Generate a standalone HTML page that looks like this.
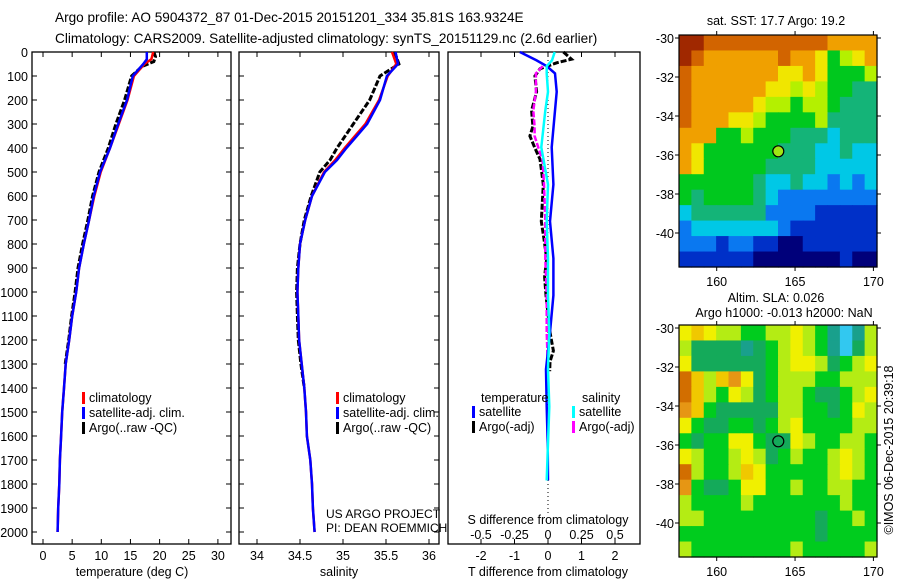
<!DOCTYPE html>
<html><head><meta charset="utf-8">
<style>
body{margin:0;background:#fff;}
svg{display:block;font-family:"Liberation Sans",sans-serif;}
text{font-size:12.5px;fill:#000;}
</style></head>
<body>
<svg id="c" width="900" height="580" viewBox="0 0 900 580"></svg>
<script>
// ---------- data ----------
const tDepth=[0,30,50,100,200,300,400,500,600,700,800,900,1000,1100,1200,1300,1400,1500,1600,1700,1800,1900,2000];
const tClim=[18.9,18.6,17.4,15.6,14.5,13.0,11.5,9.9,8.8,7.9,7.0,6.2,5.7,5.0,4.5,3.9,3.6,3.3,3.1,2.9,2.8,2.6,2.5];
const tSat=[17.8,17.8,17.2,15.4,14.4,12.9,11.5,9.8,8.7,7.9,7.0,6.2,5.7,5.0,4.5,3.9,3.6,3.3,3.1,2.9,2.8,2.6,2.5];
const argoTDepth=[0,20,40,60,100,200,300,400,500,600,700,800,900,1000,1100,1200,1300];
const argoT=[19.0,19.3,19.0,17.0,15.2,14.0,12.5,11.2,9.6,8.5,7.7,6.8,6.0,5.5,4.9,4.4,3.8];
const sDepth=[0,50,100,200,300,350,400,450,500,600,700,800,900,1000,1100,1200,1300,1400,1500,1600,1700,1800,1900,2000];
const sClim=[35.57,35.62,35.52,35.42,35.26,35.14,35.02,34.91,34.78,34.64,34.56,34.50,34.48,34.47,34.48,34.49,34.52,34.55,34.57,34.58,34.62,34.64,34.65,34.67];
const sSat=[35.61,35.64,35.51,35.43,35.28,35.16,35.04,34.93,34.79,34.64,34.56,34.50,34.48,34.47,34.48,34.49,34.52,34.55,34.57,34.58,34.62,34.64,34.65,34.67];
const argoSDepth=[0,50,100,200,300,400,450,500,600,700,800,900,1000,1100,1200,1300,1400];
const argoS=[35.60,35.65,35.43,35.31,35.12,34.93,34.85,34.73,34.63,34.55,34.50,34.47,34.46,34.47,34.48,34.51,34.55];
const dDepth=[0,35,59,89,166,244,397,552,706,860,1014,1168,1322,1477,1631,1785];
const dTSat=[-0.84,-0.34,-0.04,0.21,0.26,0.21,0.11,0.16,0.06,0.16,0.16,0.06,-0.06,-0.04,-0.01,0.0];
const dAdDepth=[0,30,45,70,100,166,244,310,350,397,447,552,706,780,860,937,1014,1168,1245,1290,1330];
const dTArgo=[0.46,0.70,0.26,-0.24,-0.39,-0.34,-0.49,-0.45,-0.54,-0.40,-0.24,-0.14,-0.20,-0.12,-0.04,-0.10,-0.06,0.06,0.16,0.06,0.05];
const dSSat=[0.05,0.03,-0.01,-0.01,0.0,-0.02,-0.05,0.0,-0.01,0.0,0.0,0.01,0.0,0.01,0.0,-0.01];
const dSArgoDepth=[59,89,166,244,310,350,420,450,552,706,860,1014,1168,1322];
const dSArgo=[-0.04,-0.09,-0.09,-0.11,-0.10,-0.10,-0.06,-0.04,-0.03,-0.02,-0.02,-0.01,-0.01,0.0];
const depthTicks=[0,100,200,300,400,500,600,700,800,900,1000,1100,1200,1300,1400,1500,1600,1700,1800,1900,2000];
const tTicks=[0,5,10,15,20,25,30];
const sTicks=[34,34.5,35,35.5,36];
const sLabels=["34","34.5","35","35.5","36"];
const dTTicks=[-2,-1,0,1,2];
const dSTicks=[-0.5,-0.25,0,0.25,0.5];
const dSLabels=["-0.5","-0.25","0","0.25","0.5"];
const lonTicks=[160,165,170];
const latTicks=[-30,-32,-34,-36,-38,-40];
const sstGrid=[
[10,10,9,9,9,9,9,9,9,9,9,9,8,8,8,8],
[10,9,8,8,8,8,8,8,9,8,8,7,5,6,7,8],
[9,8,8,8,8,8,8,8,7,7,8,7,5,5,5,6],
[9,8,8,8,8,8,8,7,7,6,7,6,5,5,4,4],
[9,8,8,8,8,8,7,6,6,5,6,6,5,4,4,4],
[9,8,8,8,7,7,6,5,5,5,5,6,4,4,4,4],
[8,8,8,5,5,6,5,5,5,4,4,4,3,4,4,4],
[8,7,5,5,5,5,5,5,4,4,4,3,3,4,3,3],
[8,7,5,5,5,5,5,4,4,4,4,3,3,3,3,3],
[5,5,5,5,5,5,4,3,3,4,3,3,2,3,2,3],
[5,4,5,5,5,5,4,3,2,2,2,2,2,2,2,2],
[3,4,4,4,4,4,4,2,2,2,2,1,1,1,1,1],
[2,3,3,3,3,3,3,3,2,1,1,1,1,1,1,1],
[2,2,2,1,2,2,1,1,0,0,1,1,1,1,1,1],
[1,1,1,1,1,1,0,0,0,0,0,0,0,1,0,0]];
const slaGrid=[
[5,6,5,4,4,3,3,4,4,5,4,3,1,0,1,4],
[4,2,2,2,2,1,2,3,4,5,4,3,1,0,2,4],
[5,2,2,2,2,2,2,3,4,5,5,4,2,3,4,5],
[8,6,4,6,7,5,2,3,4,4,4,3,3,4,4,4],
[8,6,4,3,5,4,2,3,4,4,3,2,2,3,4,5],
[7,6,3,2,2,2,2,2,4,4,3,3,2,3,5,4],
[5,3,2,2,3,3,2,3,4,5,3,3,3,3,4,4],
[3,2,3,3,5,5,3,2,2,5,4,3,3,4,4,3],
[5,4,3,3,4,5,4,2,3,4,3,3,4,5,4,3],
[8,4,3,3,4,6,5,3,3,3,3,3,4,5,4,3],
[7,3,2,2,3,5,5,3,3,4,3,3,4,4,3,3],
[4,3,3,3,3,4,3,3,3,3,3,3,3,4,3,3],
[4,4,3,3,3,3,3,3,3,3,3,2,3,3,4,3],
[3,3,3,3,3,3,3,3,3,3,3,2,3,3,3,3],
[4,3,3,3,3,3,3,3,3,4,3,3,3,3,3,4]];
const argoLon=163.93, argoLat=-35.81;

// ---------- helpers ----------
const svg=document.getElementById('c');
const NS='http://www.w3.org/2000/svg';
function mk(tag,attrs,parent){const e=document.createElementNS(NS,tag);for(const k in attrs)e.setAttribute(k,attrs[k]);(parent||svg).appendChild(e);return e;}
function txt(x,y,s,anchor,parent,size){const t=mk('text',{x:x,y:y,'text-anchor':anchor||'start'},parent);if(size)t.style.fontSize=size+'px';t.textContent=s;return t;}
const yD=d=>52+d*0.24;
const xT=t=>43+5.83*t;
const xS=s=>257+86*(s-34);
const xDT=d=>548+33.5*d;
const xDS=d=>548+134*d;
function line(xs,ys,col,name,w){
  const pts=xs.map((x,i)=>x.toFixed(1)+','+ys[i].toFixed(1)).join(' ');
  const p=mk('polyline',{points:pts,fill:'none',stroke:col,'stroke-width':w||2.5,'stroke-linejoin':'miter'});
  
  
  return p;
}
function frame(x0,x1,name){
  const r=mk('rect',{x:x0,y:52,width:x1-x0,height:492,fill:'none',stroke:'#000','stroke-width':1.3});
  
  
  depthTicks.forEach(d=>{mk('line',{x1:x0,x2:x0+5,y1:yD(d),y2:yD(d),stroke:'#000'});mk('line',{x1:x1,x2:x1-5,y1:yD(d),y2:yD(d),stroke:'#000'});});
}

// titles
const t1=txt(55,22,'Argo profile: AO 5904372_87 01-Dec-2015 20151201_334 35.81S 163.9324E','start',null,13.6);

const t2=txt(55,43,'Climatology: CARS2009. Satellite-adjusted climatology: synTS_20151129.nc (2.6d earlier)','start',null,13.6);


// depth axis labels
depthTicks.forEach(d=>{const e=txt(28,yD(d)+5,String(d),'end');});

// ---------- panel 1 temperature ----------
frame(32,231,'temperature-panel');
tTicks.forEach(t=>{mk('line',{x1:xT(t),x2:xT(t),y1:544,y2:539,stroke:'#000'});mk('line',{x1:xT(t),x2:xT(t),y1:52,y2:57,stroke:'#000'});
 const e=txt(xT(t),560,String(t),'middle');});
const xt1=txt(132,576,'temperature (deg C)','middle');
line(argoT.map(xT),argoTDepth.map(yD),'#000','argo-temperature-line',3).setAttribute('stroke-dasharray','6 2');
line(tClim.map(xT),tDepth.map(yD),'#f00','climatology-temperature-line');
line(tSat.map(xT),tDepth.map(yD),'#00f','satellite-temperature-line');
function legend(x,y,items,pfx){items.forEach((it,i)=>{const g=mk('g',{});
 mk('rect',{x:x,y:y+i*15-10,width:3,height:12,fill:it[0]},g);txt(x+7,y+i*15,it[1],'start',g,12.5);});}
legend(82,402,[['#f00','climatology'],['#00f','satellite-adj. clim.'],['#000','Argo(..raw -QC)']],'temperature');

// ---------- panel 2 salinity ----------
frame(239,439,'salinity-panel');
sTicks.forEach((s,i)=>{mk('line',{x1:xS(s),x2:xS(s),y1:544,y2:539,stroke:'#000'});mk('line',{x1:xS(s),x2:xS(s),y1:52,y2:57,stroke:'#000'});
 const e=txt(xS(s),560,sLabels[i],'middle');});
const xt2=txt(339,576,'salinity','middle');
line(argoS.map(xS),argoSDepth.map(yD),'#000','argo-salinity-line',3).setAttribute('stroke-dasharray','6 2');
line(sClim.map(xS),sDepth.map(yD),'#f00','climatology-salinity-line');
line(sSat.map(xS),sDepth.map(yD),'#00f','satellite-salinity-line');
legend(336,402,[['#f00','climatology'],['#00f','satellite-adj. clim.'],['#000','Argo(..raw -QC)']],'salinity');
const us1=txt(326,518,'US ARGO PROJECT','start',null,12);
const us2=txt(326,532,'PI: DEAN ROEMMICH','start',null,12);

// ---------- panel 3 differences ----------
const r3=mk('rect',{x:448,y:52,width:192,height:492,fill:'none',stroke:'#000','stroke-width':1.3});

mk('line',{x1:548,x2:548,y1:52,y2:514,stroke:'#000','stroke-dasharray':'1 3'});
dTTicks.forEach(t=>{mk('line',{x1:xDT(t),x2:xDT(t),y1:544,y2:539,stroke:'#000'});mk('line',{x1:xDT(t),x2:xDT(t),y1:52,y2:57,stroke:'#000'});
 const e=txt(xDT(t),560,String(t),'middle');});
dSTicks.forEach((s,i)=>{const e=txt(xDS(s),539,dSLabels[i],'middle');});
const sdt=txt(548,524,'S difference from climatology','middle');
const tdt=txt(548,576,'T difference from climatology','middle');
line(dTArgo.map(xDT),dAdDepth.map(yD),'#000','argo-temperature-diff-line',3).setAttribute('stroke-dasharray','6 2');
line(dSArgo.map(xDS),dSArgoDepth.map(yD),'#f0f','argo-salinity-diff-line',2.5).setAttribute('stroke-dasharray','6 2');
line(dTSat.map(xDT),dDepth.map(yD),'#00f','satellite-temperature-diff-line');
line(dSSat.map(xDS),dDepth.map(yD),'#0ff','satellite-salinity-diff-line');
const lt=txt(481,402,'temperature');
const ls=txt(582,402,'salinity');
legend(472,416,[['#00f','satellite'],['#000','Argo(-adj)']],'t-diff');
legend(572,416,[['#0ff','satellite'],['#f0f','Argo(-adj)']],'s-diff');

// ---------- maps ----------
const sstCols=['#00007a','#0030c8','#0a78f0','#00c8e6','#14b478','#00c81e','#b4f000','#f0e600','#f0a000','#d26400','#a02800'];
const slaCols=['#32c8f0','#19a08c','#14aa5a','#00cc1e','#b4ec14','#f0f000','#f0c800','#e69614','#d26e00'];
const mx0=679,mx1=877;
const lonX=l=>716.7+(l-160)*15.67;
function map(top,grid,cols,name){
  const bot=top+232;const latY=la=>top+3+(-30-la)*19.5;
  const g=mk('g',{});
  const nr=grid.length,nc=grid[0].length,cw=(mx1-mx0)/nc,ch=(bot-top)/nr;
  grid.forEach((row,r)=>row.forEach((v,c)=>{const cell=mk('rect',{x:(mx0+c*cw).toFixed(2),y:(top+r*ch).toFixed(2),width:(cw+0.6).toFixed(2),height:(ch+0.6).toFixed(2),fill:cols[v]},g);
    }));
  mk('rect',{x:mx0,y:top,width:mx1-mx0,height:bot-top,fill:'none',stroke:'#000','stroke-width':1.2},g);
  lonTicks.forEach(l=>{mk('line',{x1:lonX(l),x2:lonX(l),y1:top,y2:top-4,stroke:'#000'},g);mk('line',{x1:lonX(l),x2:lonX(l),y1:bot,y2:bot+4,stroke:'#000'},g);
    const e=txt(lonX(l),bot+19,String(l),'middle',g);});
  latTicks.forEach(la=>{mk('line',{x1:mx0,x2:mx0-4,y1:latY(la),y2:latY(la),stroke:'#000'},g);mk('line',{x1:mx1,x2:mx1+4,y1:latY(la),y2:latY(la),stroke:'#000'},g);
    const e=txt(mx0-5,latY(la)+5,String(la),'end',g);});
  return {g:g,latY:latY};
}
const m1=map(35,sstGrid,sstCols,'sst-map');
const c1=mk('circle',{cx:lonX(argoLon),cy:m1.latY(argoLat),r:5.5,fill:'#a0e614',stroke:'#000','stroke-width':1.2});

const mt1=txt(776,25,'sat. SST: 17.7 Argo: 19.2','middle');
const m2=map(325,slaGrid,slaCols,'sla-map');
const c2=mk('circle',{cx:lonX(argoLon),cy:m2.latY(argoLat),r:5.5,fill:'none',stroke:'#000','stroke-width':1.2});

const mt2=txt(776,302,'Altim. SLA: 0.026','middle');
const mt3=txt(784,317,'Argo h1000: -0.013 h2000: NaN','middle');
const cr=txt(0,0,'©IMOS 06-Dec-2015 20:39:18','middle');cr.setAttribute('transform','translate(893,450) rotate(-90)');

</script>
</body></html>
